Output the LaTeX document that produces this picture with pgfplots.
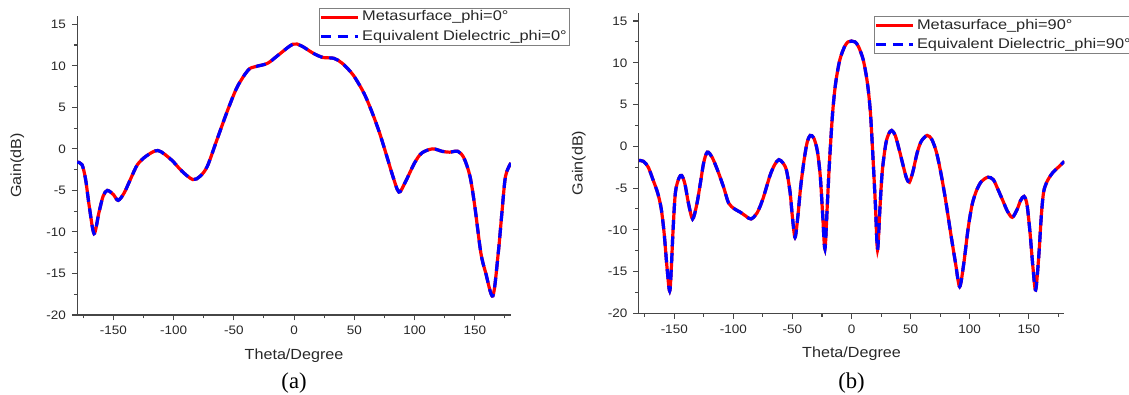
\documentclass[border=0pt]{standalone}
\usepackage{fontspec}
\usepackage{pgfplots}
\pgfplotsset{compat=1.18}
\usepackage{pgfplotstable}
\setmainfont{Liberation Sans}
\newfontfamily\tickf[FakeStretch=1.1]{Liberation Sans}
\newfontfamily\legf[FakeStretch=1.17]{Liberation Sans}
\newfontfamily\labf[FakeStretch=1.1]{Liberation Sans}
\newfontfamily\capf{Liberation Serif}
\definecolor{axgray}{RGB}{70,70,70}
\definecolor{txtgray}{RGB}{40,40,40}

\pgfplotstableread{
x y
-180 -1.6
-176 -1.9
-173 -3.7
-170 -6.9
-166 -10.2
-162 -7.7
-158.5 -5.7
-155 -5.0
-150 -5.5
-146 -6.2
-141 -5.3
-135 -3.4
-130 -1.9
-123 -0.9
-113 -0.2
-102 -1.3
-93 -2.7
-84 -3.7
-78 -3.3
-72 -2.1
-64 1.1
-55 4.7
-47 7.5
-38 9.5
-32 9.9
-22 10.3
-13 11.3
-1 12.6
6 12.4
16 11.5
24 11.0
33 10.9
40 10.3
49 8.9
58 6.7
65 4.3
71 1.9
77 -0.9
82 -3.3
87 -5.2
92 -4.1
100 -1.7
106 -0.5
115 0.0
123 -0.3
129 -0.4
136 -0.3
141 -1.1
146 -3.3
150 -6.9
155 -12.5
159 -14.9
165 -17.7
169.5 -12.5
172.5 -7.7
175.5 -3.3
180 -1.7
}\phizero

\pgfplotstableread{
x y
-180 -1.7
-176 -1.8
-172 -2.5
-168 -4.0
-164 -5.6
-161 -7.5
-158.5 -10.5
-156 -14.7
-153.6 -17.2
-151 -10.0
-149 -5.5
-146 -3.8
-143.7 -3.5
-141 -4.5
-138 -6.8
-134.5 -8.7
-131 -7.0
-128 -4.5
-125 -1.9
-122 -0.7
-118 -1.3
-113 -3.0
-108 -5.0
-104 -6.8
-99 -7.5
-94 -7.9
-89 -8.4
-85 -8.7
-80 -8.0
-75 -6.3
-69 -3.5
-65 -2.2
-61.5 -1.6
-58 -2.0
-55 -2.9
-52 -5.5
-50 -8.5
-47.8 -10.9
-45.5 -8.5
-43 -4.8
-40 -1.5
-37.5 0.5
-35 1.3
-32 1.0
-29 -0.5
-26.5 -3.5
-24.5 -8.0
-22.5 -12.3
-20.5 -7.0
-18.5 -1.5
-16 4.0
-13.5 7.5
-10 10.3
-6 11.9
-3 12.5
0 12.6
3 12.5
6 11.9
10 10.3
13.5 7.5
16 4.0
18.2 -1.5
20.2 -7.0
22.0 -12.4
24 -7.5
26 -3.0
29 0.3
31.5 1.5
34 1.9
37 1.3
40.5 -0.5
44 -2.5
46.5 -3.8
49 -4.3
52 -3.0
55.5 -0.8
59 0.6
64 1.3
68 0.8
72 -0.8
76 -3.5
80 -6.8
84 -10.5
88 -14.0
91.5 -16.8
95 -14.0
98.5 -10.0
102 -7.0
106 -5.2
110 -4.2
115.5 -3.7
120 -4.0
124 -5.2
128 -6.5
132 -7.8
136 -8.5
140 -7.6
143 -6.5
146 -6.0
148.5 -7.0
151 -10.3
153.5 -14.5
155.8 -17.2
158.5 -13.0
160.5 -8.5
162.5 -5.5
165.5 -4.2
170 -3.2
175 -2.5
180 -1.8
}\phininety

\pgfplotsset{
  gainaxis/.style={
    scale only axis,
    xmin=-180, xmax=180, ymin=-20, ymax=16,
    axis x line*=bottom, axis y line*=left,
    axis line style={axgray, line width=1pt},
    xtick={-150,-100,...,150}, ytick={-20,-15,...,15},
    minor x tick num=1, minor y tick num=1,
    extra x ticks={-175,175}, extra x tick labels={},
    extra x tick style={major tick length=2.5pt, tick style={axgray, line width=0.8pt}},
    tick align=outside,
    major tick length=4pt, minor tick length=2.5pt,
    tick style={axgray, line width=0.8pt},
    /pgf/number format/assume math mode=true,
    ticklabel style={font=\tickf\fontsize{9.2}{10.5}\selectfont, text=txtgray},
    xticklabel style={yshift=-1pt},
    yticklabel style={xshift=-1pt},
    xlabel={Theta/Degree}, ylabel={Gain(dB)},
    label style={font=\labf\fontsize{11}{12.5}\selectfont, text=txtgray},
    xlabel style={at={(axis description cs:0.5,0)}, anchor=center, yshift=-30.5pt},
    legend cell align=left,
    legend style={anchor=north west, draw=gray, line width=0.6pt, fill=white,
      font=\legf\fontsize{10.5}{12}\selectfont, text=txtgray,
      inner xsep=0pt, inner ysep=0pt, row sep=1.2pt,
      nodes={inner xsep=2pt, inner ysep=1.5pt, text height=7.8pt, text depth=2.3pt}},
    legend image code/.code={\draw[##1, line width=2.4pt] (0pt,0pt) -- (27.5pt,0pt);},
  },
  redline/.style={red, line width=2.4pt, smooth, tension=0.5},
  blueline/.style={blue, line width=2.4pt, dash pattern=on 7.5pt off 5pt, smooth, tension=0.5},
}

\begin{document}
\begin{tikzpicture}
\path[use as bounding box, fill=white] (0,0) rectangle (846.75pt,295.5pt);
\begin{axis}[gainaxis, name=A, at={(57.9pt,59.25pt)}, anchor=south west,
  width=325.3pt, height=224.3pt,
  ylabel style={at={(axis description cs:-0.138,0.5)}, anchor=center},
  legend style={at={(axis description cs:0.558,1.026)}}]
\addplot[redline] table[x=x,y=y] {\phizero};
\addlegendentry{Metasurface\_phi=0°}
\addplot[blueline] table[x=x,y=y] {\phizero};
\addlegendentry{Equivalent Dielectric\_phi=0°}
\end{axis}
\begin{axis}[gainaxis, name=B, at={(479.1pt,60.5pt)}, anchor=south west,
  width=319.1pt, height=225.5pt,
  ylabel style={at={(axis description cs:-0.141,0.5)}, anchor=center},
  legend style={at={(axis description cs:0.553,0.988)}}]
\addplot[redline] table[x=x,y=y] {\phininety};
\addlegendentry{Metasurface\_phi=90°}
\addplot[blueline] table[x=x,y=y] {\phininety};
\addlegendentry{Equivalent Dielectric\_phi=90°}
\end{axis}
\node[font=\capf\fontsize{17}{19}\selectfont, text=black] at ([yshift=-51pt]A.south) {(a)};
\node[font=\capf\fontsize{17}{19}\selectfont, text=black] at ([yshift=-52pt]B.south) {(b)};
\end{tikzpicture}
\end{document}
